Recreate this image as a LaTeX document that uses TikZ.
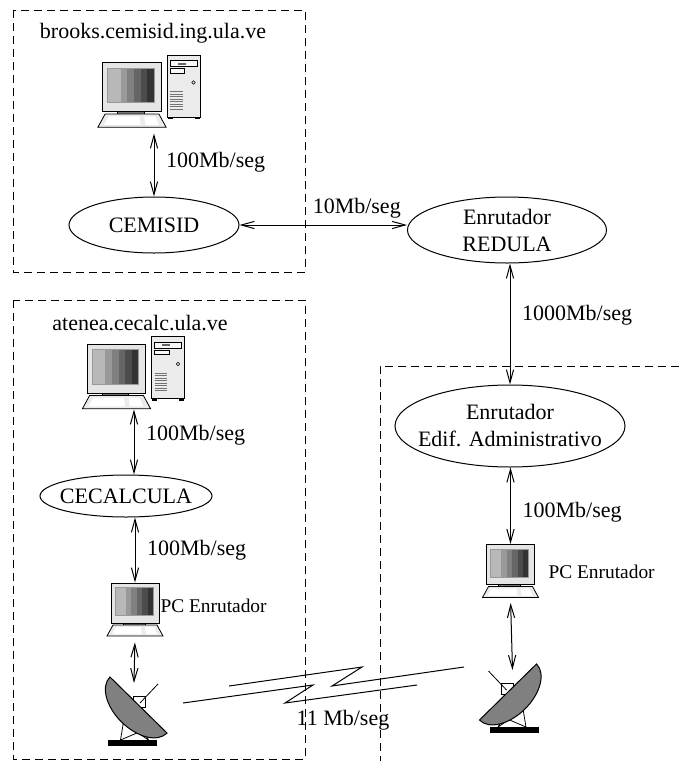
\documentclass[tikz,border=0pt]{standalone}
\usepackage{fontspec}
\setmainfont{Liberation Serif}
\usetikzlibrary{arrows.meta,shapes.geometric}

\tikzset{
	% PC con monitor y teclado
	pics/pc/.style={code={
		\draw[fill=black!10, line width=0.4pt] (-24,-26.5) rectangle (24,13.5);
		\foreach \c [count=\i from 0] in {28,28,40,50,60,70,80}
			\fill[black!\c] ({-20+5.43*\i},-22) rectangle ({-14.5+5.43*\i},6);
		\draw[black!40, line width=0.3pt] (-20,-22) rectangle (18,6);
		\draw[fill=black!55, line width=0.3pt] (-12,13.5) rectangle (10,15.5);
		\draw[fill=black!8, line width=0.4pt] (-22,15.5) -- (22,15.5) -- (28,26.5)
			-- (-28,26.5) -- cycle;
		\fill[white] (-19,17.5) -- (6,17.5) -- (7,24.5) -- (-23,24.5) -- cycle;
		\fill[white] (10,17.5) -- (19,17.5) -- (22,24.5) -- (11,24.5) -- cycle;
	}},
	% PC con torre
	pics/desktop/.style={code={
		\pic[scale=1.22] at (-17.5,3.5) {pc};
		\draw[fill=black!8, line width=0.4pt] (17.5,-36.5) rectangle (50.5,25.5);
		\draw[fill=black!3, line width=0.3pt] (20.5,-31) rectangle (47.5,-25);
		\fill[black!60] (28,-29) rectangle (36,-27);
		\draw[fill=black!3, line width=0.3pt] (20.5,-23) rectangle (35,-18.5);
		\draw[line width=0.3pt] (44,-9) circle (1.8);
		\foreach \y in {0,2.5,...,17.5}
			\draw[black!55, line width=0.3pt] (20.5,\y) -- (33,\y);
		\fill (18,25.5) rectangle (23,27.5);
		\fill (45,25.5) rectangle (50,27.5);
	}},
	% antena parabolica
	pics/dish/.style={code={
		\draw[line width=0.4pt] (-5.5,-9) rectangle (6.5,2);
		\draw[line width=0.4pt] (19.5,-21) -- (1.5,-2);
		\draw[line width=0.4pt] (-18,35) -- (-15,17) (10,35) -- (6,28)
			(-18,35) -- (3,26) (10,35) -- (-11,21);
		\draw[fill=gray, rotate=-44.5] (40,0) arc[start angle=0, end angle=180,
			x radius=40, y radius=24] -- cycle;
		\fill (-30.5,35) rectangle (18.5,41);
		\coordinate (-feed) at (-4.5,-22);
	}},
}

\begin{document}
\begin{tikzpicture}[x=0.5pt, y=-0.5pt, line width=0.5pt,
	font=\fontsize{11}{13.5}\selectfont,
	zone/.style={dash pattern=on 4pt off 2.5pt},
	router/.style={draw, ellipse, inner xsep=-8pt, inner ysep=0pt, align=center},
	icon/.style={inner sep=0pt},
	link/.style={{Straight Barb[length=6.5pt,width=3.6pt]}-{Straight Barb[length=6.5pt,width=3.6pt]}},
	rate/.style={anchor=west, xshift=2.5pt},
	small/.style={font=\fontsize{9.7}{11}\selectfont, anchor=west, inner sep=0pt}]
	\useasboundingbox (0,0) rectangle (679,761);

	% Zonas
	\draw[zone] (13,10) rectangle (305,272);
	\draw[zone] (13,300) rectangle (305,759);
	\draw[zone] (679,366) -- (380,366) -- (380,761);

	% CEMISID
	\node (hostA) at (153,33) {brooks.cemisid.ing.ula.ve};
	\node[icon, minimum width=52.5pt, minimum height=36.5pt] (srvA) at (149.5,91.5) {};
	\pic at (srvA) {desktop};
	\node[router, minimum width=85pt, minimum height=28pt] (cemisid) at (154,225)
	{CEMISID};

	% REDULA
	\node[router, minimum width=99.5pt, minimum height=33pt] (redula) at (507,230)
	{Enrutador\\REDULA};
	\node[router, minimum width=115pt, minimum height=41pt] (edif) at (510,426)
	{Enrutador\\Edif. Administrativo};

	% CECALCULA
	\node (hostB) at (140,323) {atenea.cecalc.ula.ve};
	\node[icon, minimum width=52pt, minimum height=36pt] (srvB) at (134,373) {};
	\pic at (srvB) {desktop};
	\node[router, minimum width=86pt, minimum height=21pt] (cecalc) at (126,496)
	{CECALCULA};

	% PC enrutadores
	\node[icon, minimum width=28pt, minimum height=26.5pt] (pcL) at (135,609.5) {};
	\pic at (pcL) {pc};
	\node[small] (pcLtxt) at (160,606) {PC Enrutador};
	\node[icon, minimum width=28pt, minimum height=26.5pt] (pcR) at (510.5,571) {};
	\pic at (pcR) {pc};
	\node[small] (pcRtxt) at (548,571.5) {PC Enrutador};

	% Antenas
	\pic (dishL) at (138.5,705) {dish};
	\pic[xscale=-1] (dishR) at (508,692) {dish};

	% Enlaces
	\draw[link, shorten <=2.5pt] (cemisid.north |- srvA.south) -- (cemisid.north)
		node[rate, pos=0.5] {100Mb/seg};
	\draw[link] (cemisid.east) -- (cemisid.east -| redula.west)
		node[above, pos=0.7] {10Mb/seg};
	\draw[link] (edif.north |- redula.south) -- (edif.north)
		node[rate, pos=0.43] {1000Mb/seg};
	\draw[link] (pcR.north |- edif.south) -- (pcR.north)
		node[rate, pos=0.58] {100Mb/seg};
	\draw[link, shorten <=2.5pt] (pcR.south) -- (dishR-feed);
	\draw[link] (srvB.south) -- (srvB.south |- cecalc.north)
		node[rate, pos=0.4] {100Mb/seg};
	\draw[link] (pcL.north |- cecalc.south) -- (pcL.north)
		node[rate, pos=0.5] {100Mb/seg};
	\draw[link, shorten <=3pt] (pcL.south) -- (dishL-feed);

	% Enlace inalambrico
	\draw (183,703) -- (313,685) -- (285,703) -- (417,685);
	\draw (229,686) -- (362,667) -- (332,686) -- (464,667);
	\node (wlan) at (343,720) {11 Mb/seg};
\end{tikzpicture}
\end{document}
